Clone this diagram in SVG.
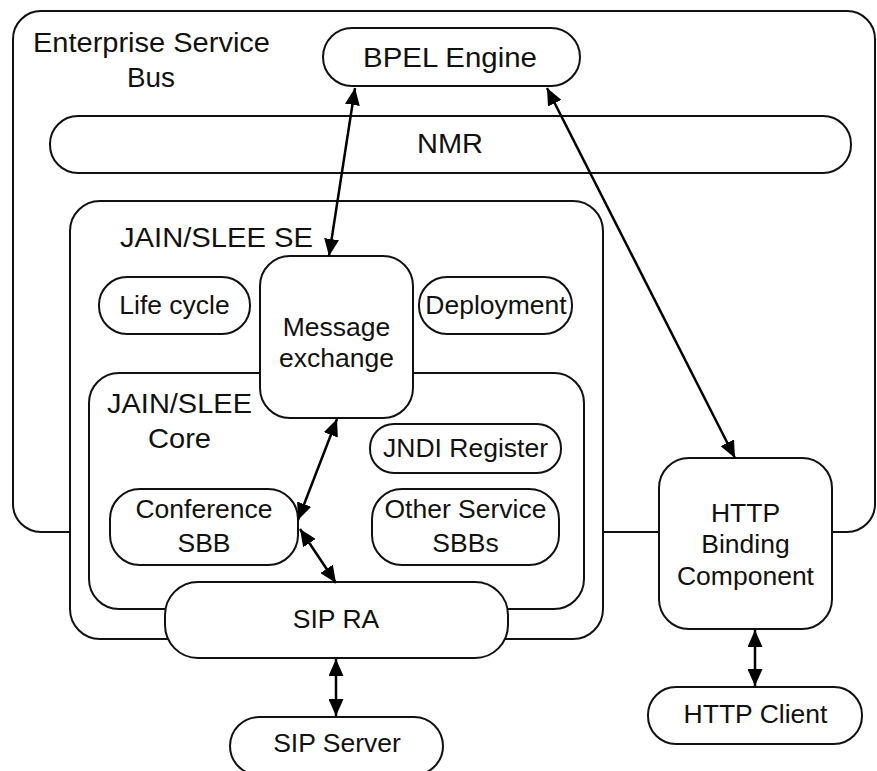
<svg xmlns="http://www.w3.org/2000/svg" width="877" height="771" viewBox="0 0 877 771">
<defs>
<style>
.b{fill:#fff;stroke:#111;stroke-width:2}
.t{font-family:"Liberation Sans",Arial,sans-serif;font-size:26.5px;fill:#111;text-anchor:middle}
.w{font-size:27.5px}
.c{stroke:#000;stroke-width:2.5;fill:none;marker-start:url(#ah);marker-end:url(#ah)}
</style>
<marker id="ah" markerUnits="userSpaceOnUse" markerWidth="18" markerHeight="15" refX="17" refY="7.5" orient="auto-start-reverse" viewBox="0 0 18 15">
<path d="M0,0 L17,7.5 L0,15 z" fill="#000"/>
</marker>
</defs>
<rect width="877" height="771" fill="#fff"/>
<g id="esb">
<rect class="b" x="13" y="11" width="862" height="521" rx="28"/>
<text class="t w" x="151.5" y="52" textLength="237" lengthAdjust="spacingAndGlyphs">Enterprise Service</text>
<text class="t w" x="151" y="87" textLength="48" lengthAdjust="spacingAndGlyphs">Bus</text>
</g>
<g id="bpel">
<rect class="b" x="323" y="28" width="257" height="58" rx="29"/>
<text class="t w" x="450" y="67" textLength="174" lengthAdjust="spacingAndGlyphs">BPEL Engine</text>
</g>
<g id="nmr">
<rect class="b" x="50" y="116" width="801" height="57" rx="28"/>
<text class="t w" x="450" y="153" textLength="66" lengthAdjust="spacingAndGlyphs">NMR</text>
</g>
<g id="se">
<rect class="b" x="70" y="201" width="533" height="438" rx="30"/>
<text class="t w" x="216.5" y="247" textLength="193" lengthAdjust="spacingAndGlyphs">JAIN/SLEE SE</text>
</g>
<g id="lifecycle">
<rect class="b" x="99" y="277" width="151" height="57" rx="28"/>
<text class="t" x="174.5" y="314">Life cycle</text>
</g>
<g id="deployment">
<rect class="b" x="419" y="277" width="153" height="57" rx="28"/>
<text class="t" x="496" y="314">Deployment</text>
</g>
<g id="core">
<rect class="b" x="89" y="373" width="495" height="236" rx="30"/>
<text class="t w" x="179.5" y="413" textLength="145" lengthAdjust="spacingAndGlyphs">JAIN/SLEE</text>
<text class="t w" x="179.5" y="448" textLength="63" lengthAdjust="spacingAndGlyphs">Core</text>
</g>
<g id="msgex">
<rect class="b" x="260" y="256" width="153" height="162" rx="30"/>
<text class="t" x="336.5" y="336">Message</text>
<text class="t" x="336.5" y="367">exchange</text>
</g>
<g id="jndi">
<rect class="b" x="370" y="424" width="191" height="49" rx="24"/>
<text class="t" x="465.5" y="457">JNDI Register</text>
</g>
<g id="other">
<rect class="b" x="372" y="489" width="187" height="76" rx="30"/>
<text class="t" x="465.5" y="518">Other Service</text>
<text class="t" x="465.5" y="552">SBBs</text>
</g>
<g id="conference">
<rect class="b" x="110" y="489" width="188" height="76" rx="30"/>
<text class="t" x="204" y="518">Conference</text>
<text class="t" x="204" y="552">SBB</text>
</g>
<g id="sipra">
<rect class="b" x="165" y="582" width="343" height="76" rx="33"/>
<text class="t" x="336" y="628">SIP RA</text>
</g>
<g id="sipserver">
<rect class="b" x="230" y="717" width="213" height="58" rx="29"/>
<text class="t" x="337" y="752">SIP Server</text>
</g>
<g id="httpbc">
<rect class="b" x="659" y="458" width="173" height="171" rx="30"/>
<text class="t" x="745.5" y="522">HTTP</text>
<text class="t" x="745.5" y="553">Binding</text>
<text class="t" x="745.5" y="585">Component</text>
</g>
<g id="httpclient">
<rect class="b" x="648" y="687" width="214" height="57" rx="28"/>
<text class="t" x="755.5" y="723">HTTP Client</text>
</g>
<g id="connectors">
<line class="c" x1="355" y1="88" x2="329" y2="256"/>
<line class="c" x1="547" y1="88" x2="735" y2="458"/>
<line class="c" x1="337" y1="419" x2="298" y2="520"/>
<line class="c" x1="300" y1="529" x2="336" y2="583"/>
<line class="c" x1="336" y1="659" x2="336" y2="716"/>
<line class="c" x1="755" y1="630" x2="755" y2="686"/>
</g>
</svg>
